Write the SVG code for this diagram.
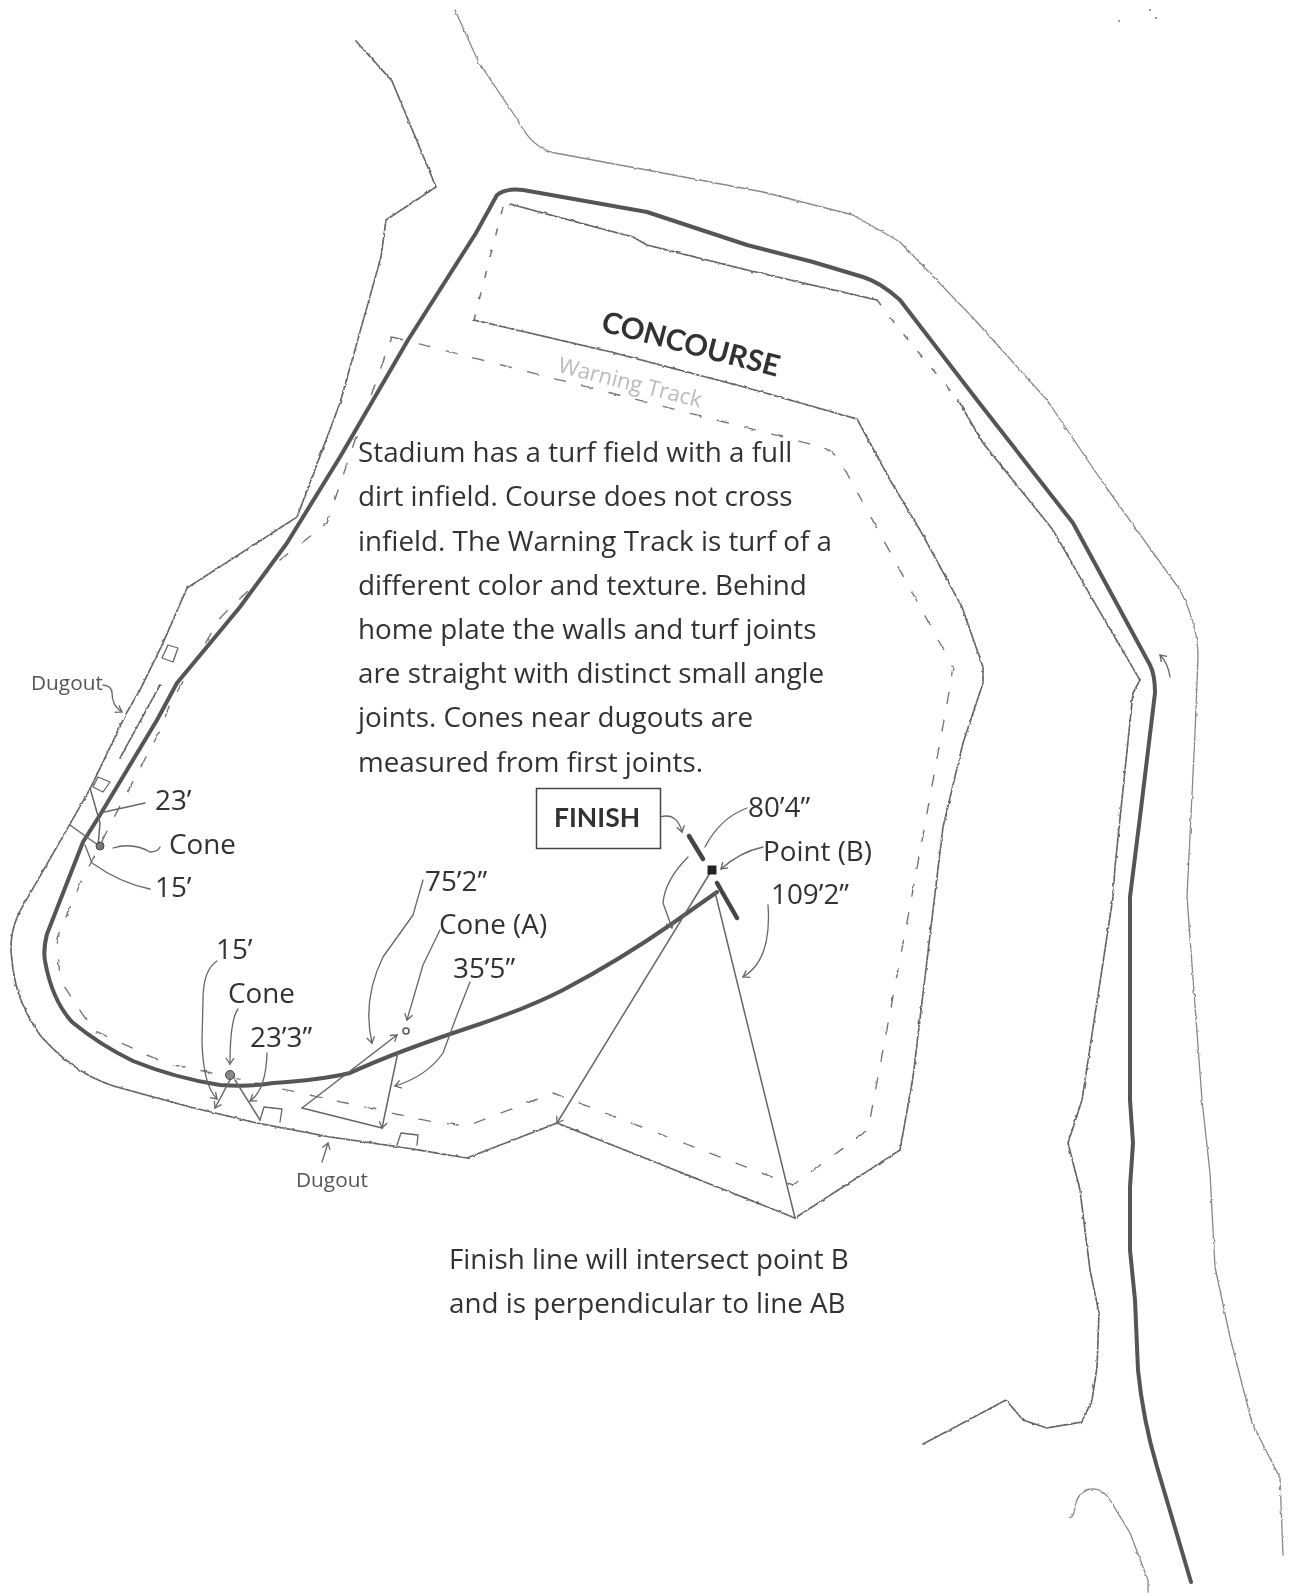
<svg xmlns="http://www.w3.org/2000/svg" width="1289" height="1596" viewBox="0 0 1289 1596">
<style>
text{font-family:"Open Sans","Noto Sans","Liberation Sans",sans-serif;fill:#333}
.t{font-size:27.8px}
.s{font-size:20.8px;fill:#555}
.b{font-family:"Lato","Open Sans",sans-serif;font-weight:700}
.l{fill:none;stroke-linejoin:round;stroke-linecap:round}
.route{stroke:#555;stroke-width:4}
.thin{stroke:#888;stroke-width:1.3}
.wall{stroke:#666;stroke-width:1.7;stroke-dasharray:6 1.5}
.dot{stroke:#777;stroke-width:1.6;stroke-dasharray:6 16}
.dash{stroke:#777;stroke-width:1.4;stroke-dasharray:11 17}
.lead{stroke:#666;stroke-width:1.3}
.meas{stroke:#666;stroke-width:1.5}
.bar{stroke:#444;stroke-width:4.500}
.arr{marker-end:url(#open)}
</style>
<defs>
<filter id="rough" x="-5%" y="-5%" width="110%" height="110%"><feTurbulence type="fractalNoise" baseFrequency="0.18" numOctaves="2" seed="4"/><feDisplacementMap in="SourceGraphic" scale="2.5" xChannelSelector="R" yChannelSelector="G"/><feGaussianBlur stdDeviation="0.45"/></filter>
<filter id="soft" x="-5%" y="-5%" width="110%" height="110%"><feGaussianBlur stdDeviation="0.5"/></filter>
<marker id="open" markerUnits="userSpaceOnUse" markerWidth="12" markerHeight="12" refX="9" refY="5" orient="auto"><path d="M3,1 L9,5 3,9" fill="none" stroke="#666" stroke-width="1.3"/></marker>
</defs>
<rect width="1289" height="1596" fill="#fff"/>
<g id="outer-lines" filter="url(#rough)">
<path class="l thin" d="M455,10 L478,61 519,122 Q532,148 555,153 L647,170 763,192 853,215 900,242 975,320 1047,400 1103,483 1180,590 Q1198,625 1198,657 L1195,733 1187,897 1202,1100 1210,1173 1215,1267 1230,1337 1252,1423 1280,1478 1283,1555"/>
<path class="l wall" d="M356,41 L392,81 429,170 436,187 386,220 381,257 340,403 297,517 187,588 163,643 140,690 127,712 90,789 55,850 20,911 Q8,935 12,960 Q15,1000 40,1035 Q75,1075 117,1087 L190,1107 257,1123 330,1137 400,1147 467,1158 557,1123 795,1218 900,1150 913,1077 943,827 963,743 983,683 983,667 962,607 920,530 890,480 857,419 744,387 611,352 474,320"/>
<polyline class="l dot" points="474,320 504,203"/>
<polyline class="l wall" points="510,204 580,223 633,237 647,245 747,270 877,300"/>
<polyline class="l dot" points="877,300 900,330 958,400"/>
<path class="l wall" d="M958,400 L983,443 1053,530 1097,607 1140,680 1133,693 1115,867 1113,897 1082,1100 1068,1143 1080,1190 1090,1270 1099,1313 1097,1367 1092,1400 1082,1422 1047,1428 1023,1420 1006,1400 923,1444"/>
<path class="l thin" d="M1070,1518 Q1075,1515 1075,1505 Q1080,1489 1092,1489 Q1102,1488 1110,1500 L1130,1533 1148,1580 1148,1592"/>
<polyline class="l dash" points="392,337 783,437 825,448 838,457 953,667 950,687 913,890 868,1130 793,1185 553,1093 467,1126 433,1122 300,1093 190,1068 167,1064 93,1030 60,980 57,938 80,884 123,800 160,731 170,704 220,618 280,560 327,523 355,440 392,337"/>
<polyline class="l wall" points="160,685 120,758"/>
</g>
<g id="dugout-boxes" filter="url(#soft)">
<polygon class="l lead" points="168,645 178,648 173,662 162,658"/>
<polygon class="l lead" points="98,777 110,782 103,792 93,787"/>
<polyline class="l lead" points="260,1120 264,1107 282,1109 280,1122"/>
<polyline class="l lead" points="397,1145 401,1133 418,1135 417,1145"/>
</g>
<g id="connectors" filter="url(#soft)">
<path class="l route" d="M1191,1582 L1157,1467 Q1143,1420 1138,1370 L1135,1300 1130,1250 1130,1187 1133,1143 1130,1100 1130,897 1140,817 1155,693 Q1155,675 1150,665 L1073,523 977,400 900,300 Q880,282 863,277 L813,262 747,245 647,212 523,190 Q505,188 497,195 L476,233 408,340 340,457 287,543 240,607 177,683 157,720 100,815 83,842 47,934 Q43,950 45,961 Q52,1000 72,1022 Q100,1045 133,1061 Q175,1078 220,1085 Q250,1087 273,1083 Q320,1080 350,1073 Q395,1052 480,1024 Q530,1007 563,990 Q620,960 673,923 L717,892"/>
<polyline class="l meas arr" points="710,873 557,1123"/>
<polyline class="l meas" points="715,892 795,1218"/>
<polyline class="l meas arr" points="302,1108 397,1035"/>
<polyline class="l meas" points="302,1108 382,1128"/>
<polyline class="l meas arr" points="398,1052 382,1128"/>
<polyline class="l meas" points="90,788 100,823 98,847"/>
<polyline class="l meas" points="70,825 88,838 98,845"/>
<polyline class="l meas arr" points="230,1080 215,1108"/>
<polyline class="l meas" points="235,1080 260,1120"/>
<polyline class="l lead" points="145,803 100,813"/>
<path class="l lead" d="M113,848 Q133,842 150,852 Q158,852 160,847"/>
<path class="l lead" d="M150,889 Q120,883 92,863 L85,845"/>
<path class="l lead arr" d="M103,685 Q112,686 112,693 Q112,706 122,712"/>
<path class="l lead arr" d="M217,961 Q203,970 203,1000 L202,1041 Q203,1085 217,1099"/>
<path class="l lead arr" d="M238,1009 Q230,1020 230,1064"/>
<path class="l lead arr" d="M267,1053 Q266,1090 250,1101"/>
<path class="l lead arr" d="M423,880 L413,915 383,957 Q362,1000 372,1043"/>
<path class="l lead arr" d="M440,930 L423,965 407,1020"/>
<path class="l lead arr" d="M470,982 L457,1015 443,1053 Q427,1076 395,1086"/>
<path class="l lead arr" d="M660,817 Q677,812 682,832"/>
<path class="l lead" d="M747,808 Q720,818 705,847"/>
<path class="l lead arr" d="M763,847 Q740,852 721,869"/>
<path class="l lead arr" d="M768,905 Q772,960 743,977"/>
<path class="l lead arr" d="M688,857 Q665,880 663,903 L672,928"/>
<path class="l lead arr" d="M1170,677 Q1168,663 1160,655"/>
<polyline class="l lead arr" points="322,1162 328,1143"/>
<line class="l bar" x1="689" y1="836" x2="703" y2="859"/>
<line class="l bar" x1="717" y1="883" x2="737" y2="918"/>
</g>
<g id="cones" filter="url(#soft)">
<circle cx="100" cy="846" r="4" fill="#777" stroke="#444"/>
<circle cx="230" cy="1075" r="4.500" fill="#888" stroke="#444"/>
<circle cx="406" cy="1031" r="3" fill="#fff" stroke="#555" stroke-width="1.500"/>
<rect id="point-b" x="707.500" y="865.500" width="9" height="9" fill="#222"/>
<circle cx="1119" cy="21" r="1" fill="#777"/><circle cx="1150" cy="10" r="1" fill="#777"/><circle cx="1156" cy="18" r="1" fill="#777"/>
</g>
<g id="finish-box" filter="url(#soft)">
<rect x="536.500" y="788.500" width="124" height="60" fill="#fff" stroke="#444" stroke-width="1.500"/>
<text class="b" x="554" y="827" style="font-size:26.500px">FINISH</text>
</g>
<g id="labels" filter="url(#soft)">
<text class="b" style="font-size:29.500px" transform="translate(600,331) rotate(14.500)">CONCOURSE</text>
<text class="s" style="fill:#bbb;font-size:22px" transform="translate(557,372) rotate(14)">Warning Track</text>
<text class="t"><tspan x="358" y="462">Stadium has a turf field with a full</tspan><tspan x="358" y="506">dirt infield. Course does not cross</tspan><tspan x="358" y="551">infield. The Warning Track is turf of a</tspan><tspan x="358" y="595">different color and texture. Behind</tspan><tspan x="358" y="639">home plate the walls and turf joints</tspan><tspan x="358" y="683">are straight with distinct small angle</tspan><tspan x="358" y="727">joints. Cones near dugouts are</tspan><tspan x="358" y="772">measured from first joints.</tspan></text>
<text class="t" x="155" y="810">23’</text>
<text class="t" x="169" y="854">Cone</text>
<text class="t" x="155" y="897">15’</text>
<text class="t" x="216" y="959">15’</text>
<text class="t" x="228" y="1003">Cone</text>
<text class="t" x="250" y="1047">23’3”</text>
<text class="t" x="425" y="891">75’2”</text>
<text class="t" x="439" y="934">Cone (A)</text>
<text class="t" x="453" y="978">35’5”</text>
<text class="t" x="748" y="817">80’4”</text>
<text class="t" x="763" y="861">Point (B)</text>
<text class="t" x="771" y="904">109’2”</text>
<text class="s" x="31" y="690">Dugout</text>
<text class="s" x="296" y="1187">Dugout</text>
<text class="t" x="449" y="1269">Finish line will intersect point B</text>
<text class="t" x="449" y="1313">and is perpendicular to line AB</text>
</g>
</svg>
